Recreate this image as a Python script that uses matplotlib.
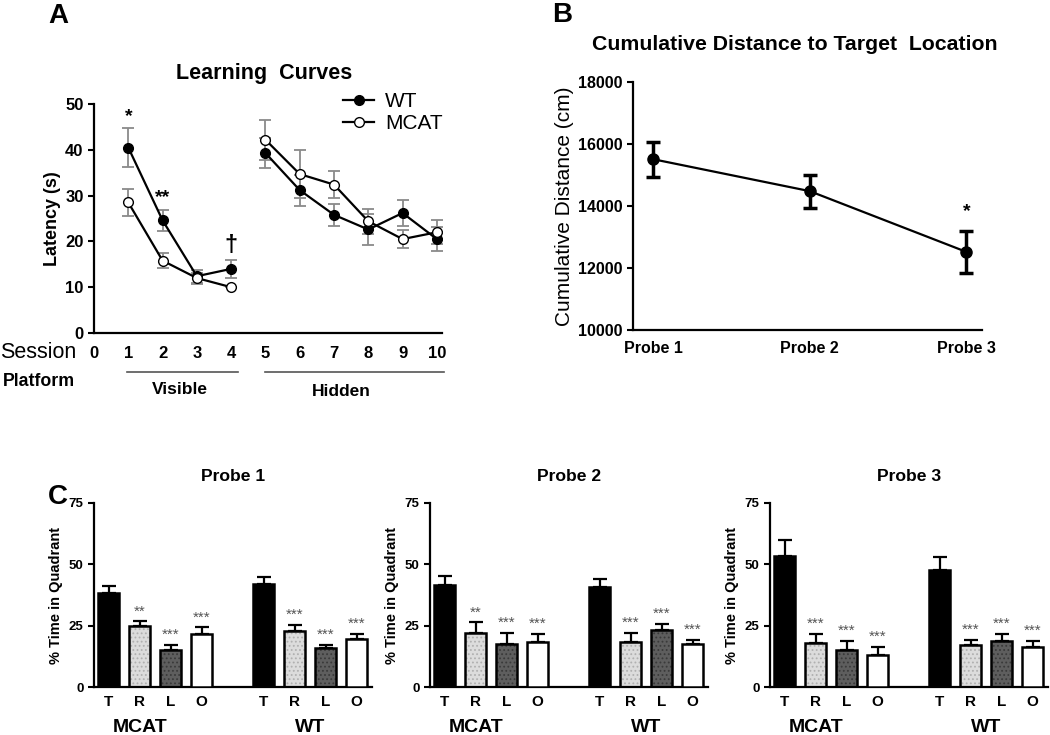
import matplotlib
matplotlib.use("Agg")
import matplotlib.pyplot as plt
import numpy as np
from matplotlib.lines import Line2D
from matplotlib.transforms import blended_transform_factory

plt.rcParams["font.family"] = ["Liberation Sans", "DejaVu Sans"]
plt.rcParams["axes.linewidth"] = 1.6

# --- A: learning curves --------------------------------------------------
sessions = np.arange(1, 11)
wt_lat = [40.5, 24.6, 12.4, 14.0, 39.3, 31.2, 25.8, 22.6, 26.2, 20.5]
wt_err = [4.2, 2.3, 1.4, 1.9, 3.3, 3.4, 2.4, 3.3, 2.9, 2.7]
mcat_lat = [28.5, 15.8, 12.0, 10.0, 42.2, 34.7, 32.4, 24.4, 20.5, 22.0]
mcat_err = [2.9, 1.7, 1.2, 0.0, 4.4, 5.2, 3.0, 2.7, 2.0, 2.6]

# --- B: cumulative distance ---------------------------------------------
probes = ["Probe 1", "Probe 2", "Probe 3"]
cum_dist = [15510, 14480, 12520]
cum_err = [560, 530, 670]

# --- C: % time in quadrant -----------------------------------------------
quadrants = ["T", "R", "L", "O"]
groups = ["MCAT", "WT"]
probe_titles = ["Probe 1", "Probe 2", "Probe 3"]
quad_time = [
    [[38.3, 24.7, 15.2, 21.7], [42.1, 22.7, 15.8, 19.7]],
    [[41.7, 22.0, 17.7, 18.5], [40.8, 18.2, 23.4, 17.5]],
    [[53.5, 17.9, 15.2, 13.0], [47.8, 17.1, 18.9, 16.2]],
]
quad_err = [
    [[3.0, 2.1, 2.1, 2.6], [2.7, 2.7, 1.3, 1.9]],
    [[3.4, 4.4, 4.3, 3.2], [3.2, 3.8, 2.4, 1.8]],
    [[6.3, 3.8, 3.7, 3.3], [5.1, 2.1, 2.7, 2.6]],
]
quad_stars = [
    [["", "**", "***", "***"], ["", "***", "***", "***"]],
    [["", "**", "***", "***"], ["", "***", "***", "***"]],
    [["", "***", "***", "***"], ["", "***", "***", "***"]],
]

W, H = 1050, 735
fig = plt.figure(figsize=(W / 100, H / 100), dpi=100)


def px_axes(x0, y0, x1, y1):
    return fig.add_axes([x0 / W, 1 - y1 / H, (x1 - x0) / W, (y1 - y0) / H])


def style(ax):
    ax.spines[["top", "right"]].set_visible(False)
    ax.tick_params(direction="out", width=1.5, length=4)
    for t in ax.get_yticklabels() + ax.get_xticklabels():
        t.set_fontweight("bold")


# ---------------- panel A -------------------------------------------------
ax = px_axes(94, 104, 442, 333)
eb_kw = dict(color="black", ecolor="#8a8a8a", elinewidth=1.3, capsize=4, capthick=1.3,
             marker="o", ms=7, lw=1.6, mec="black")
for sl in (slice(0, 4), slice(4, 10)):
    ax.errorbar(sessions[sl], wt_lat[sl], yerr=wt_err[sl], mfc="black", **eb_kw)
    ax.errorbar(sessions[sl], mcat_lat[sl], yerr=mcat_err[sl], mfc="white", **eb_kw)
ax.set_xlim(0, 10.15)
ax.set_ylim(0, 50)
ax.set_yticks([0, 10, 20, 30, 40, 50])
ax.set_xticks(range(0, 11))
ax.tick_params(axis="x", labelsize=12)
ax.tick_params(axis="y", labelsize=12)
style(ax)
ax.tick_params(axis="x", length=0, pad=9)
ax.set_ylabel("Latency (s)", fontsize=13, fontweight="bold", labelpad=3)
ax.set_title("Learning  Curves", fontsize=15.5, fontweight="bold", pad=18, x=0.49)
handles = [Line2D([], [], color="black", lw=1.6, marker="o", ms=7, mfc="black", mec="black"),
           Line2D([], [], color="black", lw=1.6, marker="o", ms=7, mfc="white", mec="black")]
ax.legend(handles, ["WT", "MCAT"], loc="upper right", bbox_to_anchor=(1.055, 1.135),
          frameon=False, fontsize=15, handlelength=1.5, handletextpad=0.5,
          labelspacing=0.15)
for s, txt, fs in [(1, "*", 14), (2, "**", 14), (4, "\u2020", 17)]:
    i = s - 1
    ax.text(s, wt_lat[i] + wt_err[i] + 0.8, txt, ha="center", va="bottom",
            fontsize=fs, fontweight="bold")

tr = blended_transform_factory(ax.transData, fig.transFigure)
fig.text(0 / W, 1 - 352 / H, "Session", fontsize=15.5, va="center", ha="left")
fig.text(3 / W, 1 - 381 / H, "Platform", fontsize=12.8, fontweight="bold", va="center")
ax.plot([0.97, 4.2], [1 - 372 / H] * 2, transform=tr, color="#555555", lw=1.2,
        clip_on=False)
ax.plot([5.0, 10.2], [1 - 372 / H] * 2, transform=tr, color="#555555", lw=1.2,
        clip_on=False)
ax.text(2.5, 1 - 389 / H, "Visible", transform=tr, ha="center", va="center",
        fontsize=12.5, fontweight="bold")
ax.text(7.2, 1 - 391 / H, "Hidden", transform=tr, ha="center", va="center",
        fontsize=12.5, fontweight="bold")
fig.text(48 / W, 1 - 16 / H, "A", fontsize=20, fontweight="bold", va="center")

# ---------------- panel B -------------------------------------------------
bx = px_axes(633, 82, 982, 330)
xp = np.arange(len(probes))
bx.errorbar(xp, cum_dist, yerr=cum_err, color="black", lw=1.6, elinewidth=2.5,
            capsize=5, capthick=2.5, marker="o", ms=8)
bx.set_xlim(-0.128, 2.1)
bx.set_ylim(10000, 18000)
bx.set_yticks([10000, 12000, 14000, 16000, 18000])
bx.set_xticks(xp)
bx.set_xticklabels(probes)
bx.tick_params(axis="both", labelsize=11.5)
style(bx)
bx.tick_params(axis="x", length=0, pad=8)
bx.set_ylabel("Cumulative Distance (cm)", fontsize=15, labelpad=3)
bx.text(2, cum_dist[2] + cum_err[2] + 350, "*", ha="center", va="bottom",
        fontsize=14, fontweight="bold")
fig.text(795 / W, 1 - 45 / H, "Cumulative Distance to Target  Location",
         fontsize=15.3, fontweight="bold", ha="center", va="center")
fig.text(552 / W, 1 - 15 / H, "B", fontsize=20, fontweight="bold", va="center")

# ---------------- panel C -------------------------------------------------
fills = ["black", "#dcdcdc", "#5e5e5e", "white"]
hatches = [None, "....", "....", None]
hatch_cols = [None, "#b0b0b0", "#3a3a3a", None]
pos = np.array([0, 1, 2, 3, 5, 6, 7, 8])
lefts = [94, 430, 770]
for p in range(3):
    cx = px_axes(lefts[p], 503, lefts[p] + 278, 687)
    vals = quad_time[p][0] + quad_time[p][1]
    errs = quad_err[p][0] + quad_err[p][1]
    stars = quad_stars[p][0] + quad_stars[p][1]
    for k, (x, v, e, st) in enumerate(zip(pos, vals, errs, stars)):
        q = k % 4
        if hatches[q]:
            plt.rcParams["hatch.color"] = hatch_cols[q]
            plt.rcParams["hatch.linewidth"] = 0.8
            cx.bar(x, v, width=0.68, color=fills[q], hatch=hatches[q],
                   edgecolor=hatch_cols[q], linewidth=0, zorder=2)
            cx.bar(x, v, width=0.68, fill=False, edgecolor="black", linewidth=1.8,
                   zorder=3)
        else:
            cx.bar(x, v, width=0.68, color=fills[q], edgecolor="black", linewidth=1.8,
                   zorder=3)
        cx.errorbar(x, v, yerr=[[0], [e]], color="black", elinewidth=1.6, capsize=5,
                    capthick=1.6, zorder=1)
        if st:
            cx.text(x, v + e + 1.2, st, ha="center", va="bottom", fontsize=11,
                    color="#555555")
    cx.set_xlim(-0.48, 8.5)
    cx.set_ylim(0, 75)
    cx.set_yticks([0, 25, 50, 75])
    cx.set_xticks(pos)
    cx.set_xticklabels(quadrants * 2)
    cx.tick_params(axis="both", labelsize=9.5)
    style(cx)
    cx.tick_params(axis="x", length=0, labelsize=11, pad=6)
    cx.set_ylabel("% Time in Quadrant", fontsize=10.5, fontweight="bold", labelpad=4)
    cx.set_title(probe_titles[p], fontsize=12.6, fontweight="bold", pad=16)
    trc = blended_transform_factory(cx.transData, fig.transFigure)
    cx.text(1.0, 1 - 727 / H, groups[0], transform=trc, ha="center", va="center",
            fontsize=14, fontweight="bold")
    cx.text(6.5, 1 - 727 / H, groups[1], transform=trc, ha="center", va="center",
            fontsize=14, fontweight="bold")
fig.text(48 / W, 1 - 497 / H, "C", fontsize=20, fontweight="bold", va="center")

fig.savefig("out.png", dpi=100)
